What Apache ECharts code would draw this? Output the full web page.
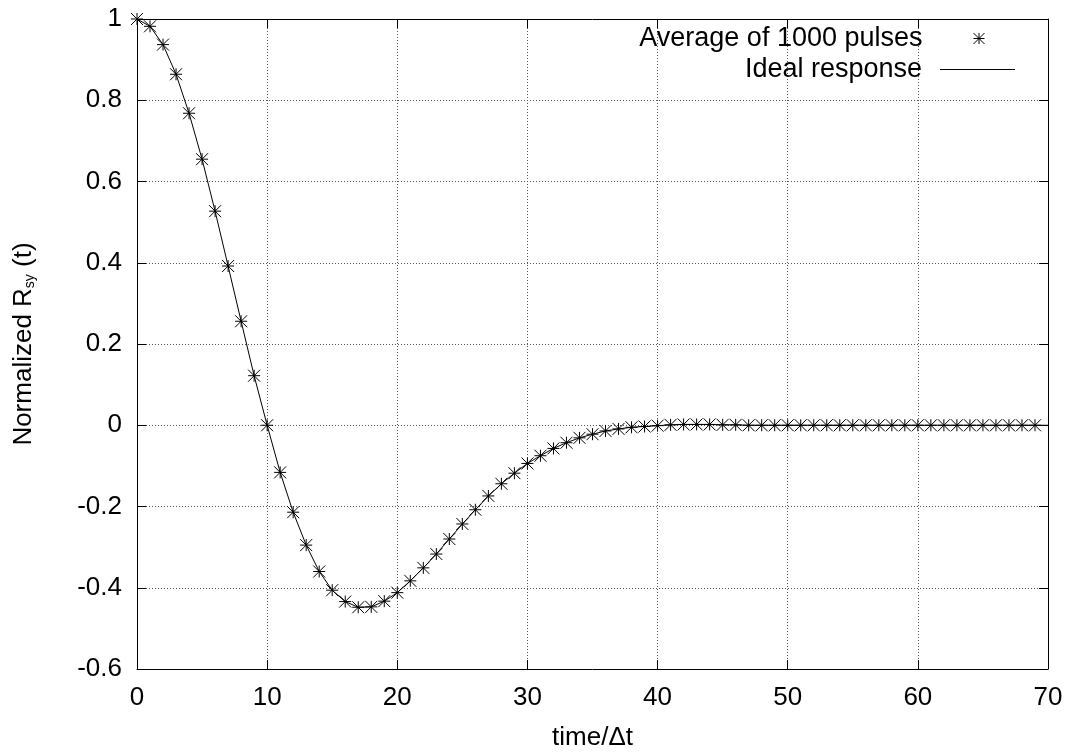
<!DOCTYPE html>
<html>
<head>
<meta charset="utf-8">
<script src="https://cdn.jsdelivr.net/npm/echarts@6/dist/echarts.min.js"></script>
<style>html,body{margin:0;padding:0;background:#fff}#c{width:1068px;height:756px}</style>
</head>
<body>
<div id="c"></div>
<script>
// time steps (time/Δt)
var tSteps = [0,1,2,3,4,5,6,7,8,9,10,11,12,13,14,15,16,17,18,19,20,21,22,23,24,25,26,27,28,29,30,31,32,33,34,35,36,37,38,39,40,41,42,43,44,45,46,47,48,49,50,51,52,53,54,55,56,57,58,59,60,61,62,63,64,65,66,67,68,69];
// Average of 1000 pulses
var averageValues = [1.0,0.982,0.937,0.864,0.768,0.655,0.527,0.392,0.256,0.122,0.0,-0.116,-0.214,-0.295,-0.360,-0.406,-0.434,-0.448,-0.447,-0.433,-0.412,-0.383,-0.351,-0.317,-0.280,-0.243,-0.208,-0.174,-0.144,-0.118,-0.094,-0.075,-0.057,-0.043,-0.031,-0.022,-0.014,-0.009,-0.005,-0.003,-0.001,0.001,0.002,0.002,0.002,0.001,0.001,0.0,0.0,0.0,0.0,0.0,0.0,0.0,0.0,0.0,0.0,0.0,0.0,0.0,0.0,0.0,0.0,0.0,0.0,0.0,0.0,0.0,0.0,0.0];
// Ideal response
var idealT = [0,1,2,3,4,5,6,7,8,9,10,11,12,13,14,15,16,17,18,19,20,21,22,23,24,25,26,27,28,29,30,31,32,33,34,35,36,37,38,39,40,41,42,43,44,45,46,47,48,49,50,51,52,53,54,55,56,57,58,59,60,61,62,63,64,65,66,67,68,69,70];
var idealValues = [1.0,0.982,0.937,0.864,0.768,0.655,0.527,0.392,0.256,0.122,0.0,-0.116,-0.214,-0.295,-0.360,-0.406,-0.434,-0.448,-0.447,-0.433,-0.412,-0.383,-0.351,-0.317,-0.280,-0.243,-0.208,-0.174,-0.144,-0.118,-0.094,-0.075,-0.057,-0.043,-0.031,-0.022,-0.014,-0.009,-0.005,-0.003,-0.001,0.001,0.002,0.002,0.002,0.001,0.001,0.0,0.0,0.0,0.0,0.0,0.0,0.0,0.0,0.0,0.0,0.0,0.0,0.0,0.0,0.0,0.0,0.0,0.0,0.0,0.0,0.0,0.0,0.0,0.0];
var xTickLabels = ['0','10','20','30','40','50','60','70'];
var yTickLabels = ['-0.6','-0.4','-0.2','0','0.2','0.4','0.6','0.8','1'];
var seriesNames = ['Average of 1000 pulses','Ideal response'];

var FONT = '"Liberation Sans", Arial, Helvetica, sans-serif';
var star = 'path://M6,0L6,12M0,6L12,6M0,0L12,12M0,12L12,0';

function pairs(xs, ys){ return xs.map(function(x,i){ return [x, ys[i]]; }); }

var chart = echarts.init(document.getElementById('c'), null, {renderer:'canvas'});
var xFmt = function(v){ return xTickLabels[Math.round(v/10)]; };
var yFmt = function(v){ return yTickLabels[Math.round((v+0.6)/0.2)]; };

var baseAxis = {
  axisLine:{show:true, onZero:false, lineStyle:{color:'#000', width:1}},
  axisTick:{show:true, inside:true, length:9, lineStyle:{color:'#000', width:1}}
};

chart.setOption({
  animation:false,
  backgroundColor:'#fff',
  grid:{left:137, right:20, top:19, bottom:84, containLabel:false},
  legend:[
    {data:[{name:seriesNames[0], icon:star, itemStyle:{color:'#000', borderColor:'#000', borderWidth:1}}],
     orient:'vertical', align:'right', right:83, top:25, padding:0,
     itemWidth:11, itemHeight:11, textStyle:{fontFamily:FONT, fontSize:27, color:'#000', padding:[0,46,0,0]}},
    {data:[{name:seriesNames[1], icon:'rect', itemStyle:{color:'#000'}}],
     orient:'vertical', align:'right', right:53, top:56, padding:0,
     itemWidth:75, itemHeight:1, textStyle:{fontFamily:FONT, fontSize:27, color:'#000', padding:[0,13,0,0]}}
  ],
  xAxis:[
    Object.assign({}, baseAxis, {type:'value', position:'bottom', min:0, max:70, interval:10,
      name:'time/\u0394t', nameLocation:'middle', nameGap:56,
      nameTextStyle:{fontFamily:FONT, fontSize:26, color:'#000'},
      axisLabel:{formatter:xFmt, fontFamily:FONT, fontSize:26, color:'#000', margin:16},
      splitLine:{show:true, lineStyle:{color:'#555', type:[1,2], width:1}}}),
    Object.assign({}, baseAxis, {type:'value', position:'top', min:0, max:70, interval:10,
      axisLabel:{show:false}, splitLine:{show:false}})
  ],
  yAxis:[
    Object.assign({}, baseAxis, {type:'value', position:'left', min:-0.6, max:1, interval:0.2,
      name:'{n|Normalized R}{s|sy}{n| (t)}', nameLocation:'middle', nameGap:100, nameRotate:90,
      nameTextStyle:{rich:{
        n:{fontFamily:FONT, fontSize:26, color:'#000'},
        s:{fontFamily:FONT, fontSize:14, color:'#000', verticalAlign:'bottom', padding:[8,0,0,0]}
      }},
      axisLabel:{formatter:yFmt, fontFamily:FONT, fontSize:26, color:'#000', margin:15},
      splitLine:{show:true, lineStyle:{color:'#555', type:[1,2], width:1}}}),
    Object.assign({}, baseAxis, {type:'value', position:'right', min:-0.6, max:1, interval:0.2,
      axisLabel:{show:false}, splitLine:{show:false}})
  ],
  series:[
    {name:seriesNames[1], type:'line', data:pairs(idealT, idealValues), symbol:'none',
     lineStyle:{color:'#000', width:1}, itemStyle:{color:'#000'}, z:2},
    {name:seriesNames[0], type:'scatter', data:pairs(tSteps, averageValues), symbol:star, symbolSize:12,
     itemStyle:{color:'#000', borderColor:'#000', borderWidth:1, opacity:1}, z:3}
  ]
});
</script>
</body>
</html>
